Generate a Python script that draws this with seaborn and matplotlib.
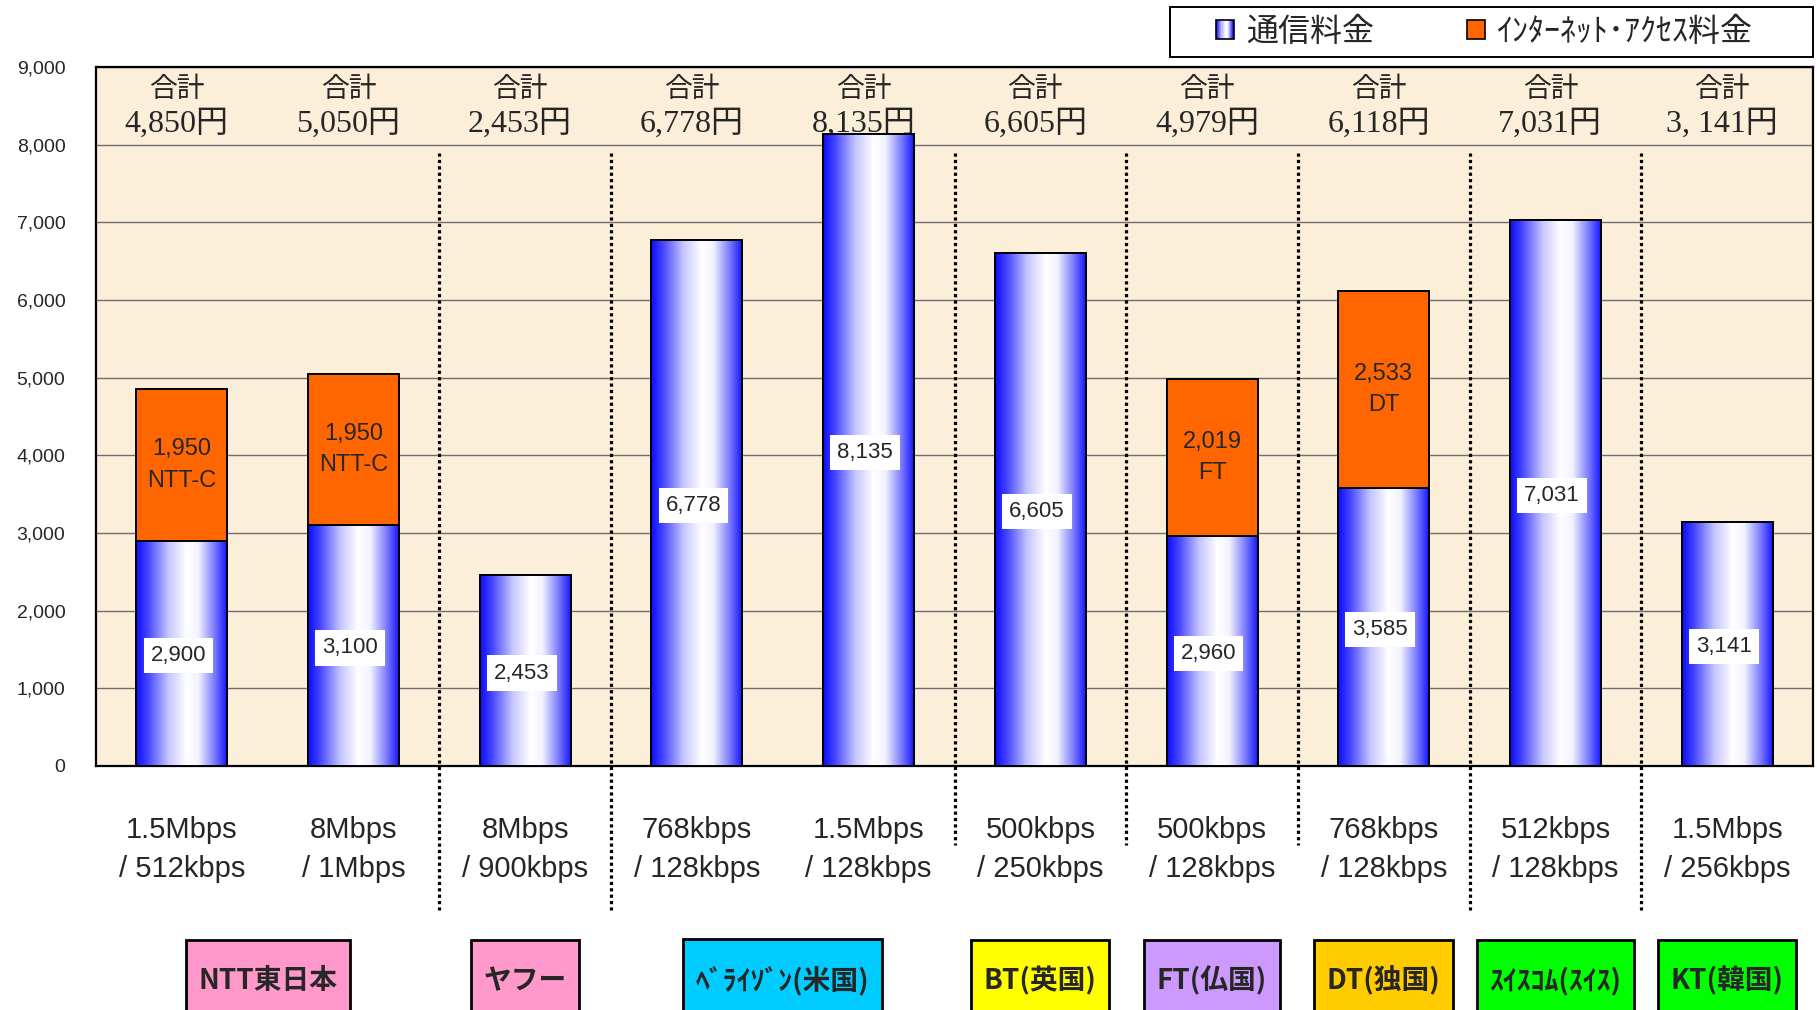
import numpy as np
import pandas as pd
import matplotlib
matplotlib.use("Agg")
import matplotlib.pyplot as plt
import matplotlib.transforms as mtransforms
from matplotlib.patches import Rectangle, Patch
from matplotlib.path import Path
from matplotlib.colors import LinearSegmentedColormap
from matplotlib.legend_handler import HandlerBase
import seaborn as sns

# ---------------- data ----------------
plans = ["NTT東日本 1.5M", "NTT東日本 8M", "ヤフー 8M", "ベライゾン 768k", "ベライゾン 1.5M",
         "BT 500k", "FT 500k", "DT 768k", "スイスコム 512k", "KT 1.5M"]
speed_labels = ["1.5Mbps\n/ 512kbps", "8Mbps\n/ 1Mbps", "8Mbps\n/ 900kbps", "768kbps\n/ 128kbps",
                "1.5Mbps\n/ 128kbps", "500kbps\n/ 250kbps", "500kbps\n/ 128kbps", "768kbps\n/ 128kbps",
                "512kbps\n/ 128kbps", "1.5Mbps\n/ 256kbps"]
comm_fee = [2900, 3100, 2453, 6778, 8135, 6605, 2960, 3585, 7031, 3141]
access_fee = [1950, 1950, 0, 0, 0, 0, 2019, 2533, 0, 0]
access_provider = ["NTT-C", "NTT-C", "", "", "", "", "FT", "DT", "", ""]
total_labels = ["4,850円", "5,050円", "2,453円", "6,778円", "8,135円", "6,605円",
                "4,979円", "6,118円", "7,031円", "3, 141円"]
companies = ["NTT東日本", "ヤフー", "ﾍﾞﾗｲｿﾞﾝ(米国)", "BT(英国)", "FT(仏国)", "DT(独国)",
             "ｽｲｽｺﾑ(ｽｲｽ)", "KT(韓国)"]
company_plans = [[0, 1], [2], [3, 4], [5], [6], [7], [8], [9]]
company_colors = ["#ff99cc", "#ff99cc", "#00ccff", "#ffff00", "#cc99ff", "#ffcc00",
                  "#00ff00", "#00ff00"]
legend_labels = ["通信料金", "ｲﾝﾀｰﾈｯﾄ･ｱｸｾｽ料金"]

# ---------------- layout / style constants ----------------
separators = [1.5, 2.5, 4.5, 5.5, 6.5, 7.5, 8.5]
sep_bottom = [-0.206, -0.206, -0.113, -0.113, -0.113, -0.206, -0.206]
sep_top = 0.877
ORANGE = "#ff6600"
BG = "#fbefd9"

sns.set_style("white")
plt.rcParams["font.family"] = ["Liberation Sans", "Noto Sans CJK JP"]
NARROW = ["Liberation Sans Narrow", "Liberation Sans", "Noto Sans CJK JP"]
CJK = ["Noto Sans CJK JP", "DejaVu Sans"]
SERIF = ["Liberation Serif", "Noto Sans CJK JP"]

W, H = 1817, 1010
fig = plt.figure(figsize=(W / 100, H / 100), dpi=100)
ax = fig.add_axes([96 / W, 1 - 766 / H, (1813 - 96) / W, (766 - 67) / H])
ax.set_facecolor(BG)

df = pd.DataFrame({"plan": plans, "comm": comm_fee, "access": access_fee})
df["total"] = df["comm"] + df["access"]

sns.barplot(data=df, x="plan", y="total", order=plans, color=ORANGE, saturation=1,
            width=0.53, edgecolor="black", linewidth=1.4, zorder=3, ax=ax)
sns.barplot(data=df, x="plan", y="comm", order=plans, color="#3030ff", saturation=1,
            width=0.53, edgecolor="black", linewidth=1.4, zorder=3, ax=ax)

grad_cmap = LinearSegmentedColormap.from_list(
    "bw", [(0.0, "#0c0cff"), (0.12, "#4040ff"), (0.35, "#c4c4ff"), (0.55, "#ffffff"),
           (0.68, "#f2f2ff"), (0.86, "#7878ff"), (1.0, "#1010ff")])
grad = np.linspace(0, 1, 256).reshape(1, -1)

blue_bars = ax.containers[1]
for p in blue_bars.patches:
    x, y, w, h = p.get_x(), p.get_y(), p.get_width(), p.get_height()
    im = ax.imshow(grad, extent=[x, x + w, y, y + h], aspect="auto", cmap=grad_cmap,
                   zorder=3.1, interpolation="bilinear")
    im.set_clip_path(p)
    p.set_facecolor("none")
    p.set_zorder(3.2)

ax.set_xlim(-0.5, len(plans) - 0.5)
ax.set_ylim(0, 9000)
ax.set_yticks(np.arange(0, 9001, 1000))
ax.set_yticklabels([f"{v:,}" for v in range(0, 9001, 1000)], fontsize=14)
ax.tick_params(axis="y", length=0, pad=22)
ax.set_xticks(range(len(plans)))
ax.set_xticklabels(speed_labels, fontsize=21, linespacing=1.48)
ax.tick_params(axis="x", length=0, pad=36)
ax.set_xlabel("")
ax.set_ylabel("")
ax.yaxis.grid(True, color="#6e6e6e", lw=1.0)
ax.set_axisbelow(True)
for s in ax.spines.values():
    s.set_visible(True)
    s.set_color("black")
    s.set_linewidth(1.6)

# value labels in bars
for i, p in enumerate(blue_bars.patches):
    cx = p.get_x() + p.get_width() / 2
    ax.text(cx - 0.02, p.get_height() / 2 - 30, f"{comm_fee[i]:,}", ha="center", va="center",
            fontsize=16, family=NARROW, zorder=5,
            bbox=dict(boxstyle="square,pad=0.32", facecolor="white", edgecolor="none"))
    if access_fee[i] > 0:
        ax.text(cx, comm_fee[i] + access_fee[i] / 2, f"{access_fee[i]:,}\n{access_provider[i]}",
                ha="center", va="center", fontsize=17, family=NARROW, zorder=5,
                linespacing=1.55)

# totals at top
tr_top = mtransforms.blended_transform_factory(ax.transData, ax.transAxes)
for i in range(len(plans)):
    ax.text(i - 0.03, 0.969, "合計", ha="center", va="center", fontsize=20, family=CJK,
            transform=tr_top, zorder=2)
    ax.text(i - 0.03, 0.918, total_labels[i], ha="center", va="center", fontsize=23,
            family=SERIF, transform=tr_top, zorder=2)

# dotted separators
for xs, yb in zip(separators, sep_bottom):
    ax.plot([xs, xs], [sep_top, yb], transform=tr_top, clip_on=False, color="black",
            lw=2.3, ls=(0, (1, 1)), zorder=4)


# company boxes
def tall_box(x0, y0, width, height, mutation_size):
    padx = 0.45 * mutation_size
    ptop = 0.95 * mutation_size
    pbot = 3.0 * mutation_size
    verts = [(x0 - padx, y0 - pbot), (x0 + width + padx, y0 - pbot),
             (x0 + width + padx, y0 + height + ptop), (x0 - padx, y0 + height + ptop),
             (x0 - padx, y0 - pbot)]
    return Path(verts, closed=True)


tr_box = mtransforms.blended_transform_factory(ax.transData, fig.transFigure)
for name, idx, col in zip(companies, company_plans, company_colors):
    ax.text(np.mean(idx), 0.029, name, ha="center", va="center", fontsize=20,
            fontweight="bold", family=CJK, transform=tr_box, clip_on=False,
            bbox=dict(boxstyle=tall_box, facecolor=col, edgecolor="black", linewidth=2.0))


# legend
class GradientHandler(HandlerBase):
    def create_artists(self, legend, orig_handle, xdescent, ydescent, width, height,
                       fontsize, trans):
        arts = []
        n = 16
        for k in range(n):
            arts.append(Rectangle((-xdescent + k * width / n, -ydescent), width / n, height,
                                  facecolor=grad_cmap((k + 0.5) / n), edgecolor="none",
                                  transform=trans))
        arts.append(Rectangle((-xdescent, -ydescent), width, height, facecolor="none",
                              edgecolor="black", lw=1.2, transform=trans))
        return arts


blue_proxy = Patch(facecolor="#3030ff", edgecolor="black")
orange_proxy = Patch(facecolor=ORANGE, edgecolor="black", lw=1.2)
fig.patches.append(Rectangle((1170 / W, 1 - 57 / H), (1813 - 1170) / W, 50 / H,
                             transform=fig.transFigure, facecolor="white",
                             edgecolor="black", lw=1.4, zorder=0))
leg = fig.legend([blue_proxy, orange_proxy], legend_labels, loc="center left",
                 bbox_to_anchor=(1216 / W, 1 - 32 / H), ncol=2, frameon=False,
                 handler_map={blue_proxy: GradientHandler()},
                 prop={"family": CJK, "size": 23}, handlelength=0.55, handleheight=0.55,
                 handletextpad=0.4, columnspacing=2.9, borderpad=0, borderaxespad=0)

fig.savefig("out.png", dpi=100, facecolor="white")
